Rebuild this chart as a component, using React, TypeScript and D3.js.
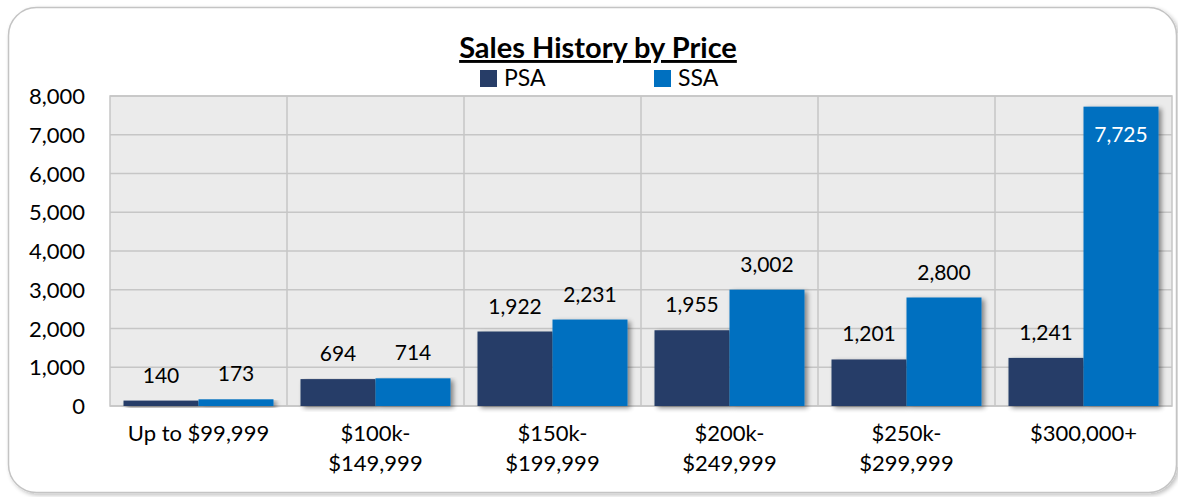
import React from "react";
import * as d3 from "d3";

const categories = [
  ["Up to $99,999"],
  ["$100k-", "$149,999"],
  ["$150k-", "$199,999"],
  ["$200k-", "$249,999"],
  ["$250k-", "$299,999"],
  ["$300,000+"],
];
const psaValues = [140, 694, 1922, 1955, 1201, 1241];
const ssaValues = [173, 714, 2231, 3002, 2800, 7725];
const seriesNames = ["PSA", "SSA"];
const seriesColors = ["#273D67", "#0070C0"];
const yTicks = [0, 1000, 2000, 3000, 4000, 5000, 6000, 7000, 8000];

const W = 1178;
const H = 497;
const plot = { left: 110, right: 1172, top: 96, bottom: 406 };
const FONT = "Lato, 'Open Sans', sans-serif";

export default function App() {
  const x = d3
    .scaleBand<number>()
    .domain(d3.range(categories.length))
    .range([plot.left, plot.right])
    .paddingInner(0)
    .paddingOuter(0);
  const gap = x.bandwidth() * 0.0763;
  const inner = d3
    .scaleBand<number>()
    .domain([0, 1])
    .range([gap, x.bandwidth() - gap])
    .paddingOuter(0)
    .paddingInner(0);
  const y = d3.scaleLinear().domain([0, 8000]).range([plot.bottom, plot.top]);
  const fmt = d3.format(",");
  const series = [psaValues, ssaValues];

  return (
    <svg
      width={W}
      height={H}
      style={{ position: "absolute", left: 0, top: 0, display: "block" }}
    >
      <defs>
        <filter id="barShadow" x="-10%" y="-10%" width="130%" height="130%">
          <feGaussianBlur in="SourceAlpha" stdDeviation="2.5" />
          <feOffset dx="3" dy="2" result="off" />
          <feComponentTransfer>
            <feFuncA type="linear" slope="0.45" />
          </feComponentTransfer>
          <feMerge>
            <feMergeNode />
            <feMergeNode in="SourceGraphic" />
          </feMerge>
        </filter>
        <filter id="cardShadow" x="-5%" y="-5%" width="110%" height="110%">
          <feGaussianBlur in="SourceAlpha" stdDeviation="2" />
          <feOffset dx="2" dy="2" />
          <feComponentTransfer>
            <feFuncA type="linear" slope="0.25" />
          </feComponentTransfer>
          <feMerge>
            <feMergeNode />
            <feMergeNode in="SourceGraphic" />
          </feMerge>
        </filter>
      </defs>
      <rect width={W} height={H} fill="#ffffff" />
      {/* card frame */}
      <rect
        x={8.5}
        y={7.5}
        width={1168}
        height={485}
        rx={28}
        ry={28}
        fill="#ffffff"
        stroke="#c4c4c4"
        strokeWidth={1.5}
        filter="url(#cardShadow)"
      />

      {/* title */}
      <text
        x={598}
        y={58}
        textAnchor="middle"
        fontFamily={FONT}
        fontWeight={700}
        fontSize={29}
        textDecoration="underline"
        fill="#000"
      >
        Sales History by Price
      </text>

      {/* legend */}
      {seriesNames.map((name, i) => (
        <g key={name} transform={`translate(${[480, 654][i]},70)`}>
          <rect width={17} height={17} fill={seriesColors[i]} />
          <text x={24} y={16} fontFamily={FONT} fontSize={23} fill="#000">
            {name}
          </text>
        </g>
      ))}

      {/* plot background and grid */}
      <rect
        x={plot.left}
        y={plot.top}
        width={plot.right - plot.left}
        height={plot.bottom - plot.top}
        fill="#ebebeb"
        stroke="#c6c6c6"
        strokeWidth={1.5}
      />
      {yTicks.map((t) => (
        <line
          key={t}
          x1={plot.left}
          x2={plot.right}
          y1={y(t)}
          y2={y(t)}
          stroke="#c6c6c6"
          strokeWidth={1.5}
        />
      ))}
      {d3.range(1, categories.length).map((i) => (
        <line
          key={i}
          x1={x(i)!}
          x2={x(i)!}
          y1={plot.top}
          y2={plot.bottom}
          stroke="#c6c6c6"
          strokeWidth={1.5}
        />
      ))}

      {/* y axis labels */}
      {yTicks.map((t) => (
        <text
          key={t}
          x={85}
          y={y(t) + 8}
          textAnchor="end"
          fontFamily={FONT}
          fontSize={22}
          fill="#000"
        >
          {fmt(t)}
        </text>
      ))}

      {/* bars */}
      {series.map((vals, s) =>
        vals.map((v, i) => {
          const bx = x(i)! + inner(s)!;
          const by = y(v);
          return (
            <rect
              key={`${s}-${i}`}
              x={bx}
              y={by}
              width={inner.bandwidth()}
              height={y(0) - by}
              fill={seriesColors[s]}
              filter="url(#barShadow)"
            />
          );
        })
      )}

      {/* value labels */}
      {series.map((vals, s) =>
        vals.map((v, i) => {
          const cx = x(i)! + inner(s)! + inner.bandwidth() / 2;
          const insideTop = y(v) < plot.top + 40;
          return (
            <text
              key={`l-${s}-${i}`}
              x={cx}
              y={insideTop ? y(v) + 35 : y(v) - 18}
              textAnchor="middle"
              fontFamily={FONT}
              fontSize={21}
              fill={insideTop ? "#ffffff" : "#000"}
            >
              {fmt(v)}
            </text>
          );
        })
      )}

      {/* category labels */}
      {categories.map((lines, i) => (
        <text
          key={i}
          x={x(i)! + x.bandwidth() / 2}
          textAnchor="middle"
          fontFamily={FONT}
          fontSize={22}
          fill="#000"
        >
          {lines.map((ln, k) => (
            <tspan key={k} x={x(i)! + x.bandwidth() / 2} y={441 + k * 30}>
              {ln}
            </tspan>
          ))}
        </text>
      ))}
    </svg>
  );
}
